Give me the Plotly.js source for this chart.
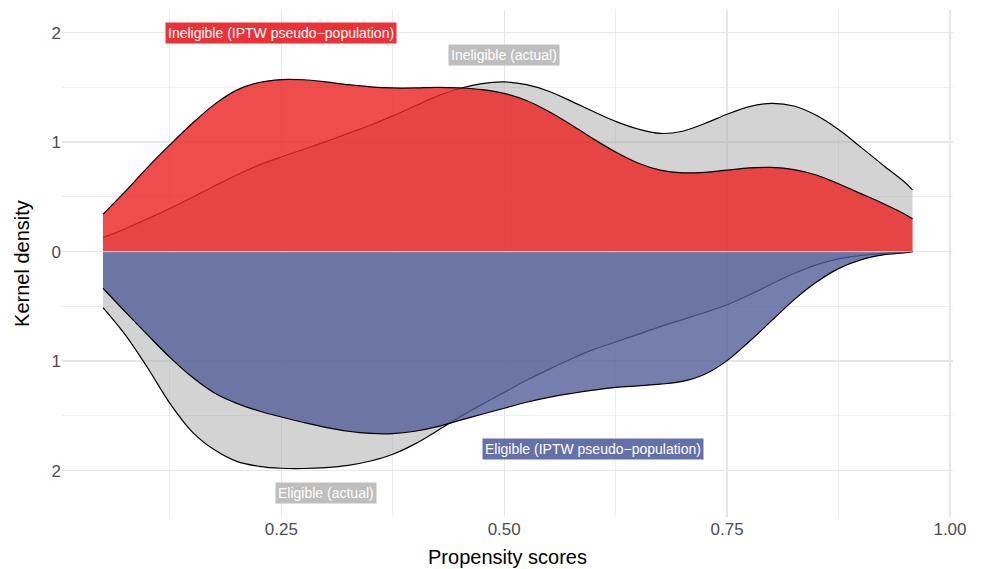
<!DOCTYPE html>
<html>
<head>
<meta charset="utf-8">
<script src="https://cdn.plot.ly/plotly-3.0.1.min.js"></script>
<style>
  html, body { margin: 0; padding: 0; background: #ffffff; }
  #chart { width: 986px; height: 569px; }
</style>
</head>
<body>
<div id="chart"></div>
<script>
// Propensity score grid
const propensity = [0.05, 0.075, 0.1, 0.125, 0.15, 0.175, 0.2, 0.225, 0.25, 0.275, 0.3, 0.325, 0.35, 0.375, 0.4, 0.425, 0.45, 0.475, 0.5, 0.525, 0.55, 0.575, 0.6, 0.625, 0.65, 0.675, 0.7, 0.725, 0.75, 0.775, 0.8, 0.825, 0.85, 0.875, 0.9, 0.925, 0.95, 0.958];

// Ineligible (top half)
const ineligibleActual = [0.128, 0.21, 0.30, 0.395, 0.495, 0.60, 0.70, 0.79, 0.865, 0.935, 1.005, 1.08, 1.155, 1.24, 1.33, 1.42, 1.49, 1.535, 1.55, 1.525, 1.465, 1.375, 1.28, 1.19, 1.12, 1.08, 1.10, 1.17, 1.255, 1.325, 1.355, 1.33, 1.245, 1.115, 0.955, 0.79, 0.63, 0.565];
const ineligibleIPTW = [0.342, 0.55, 0.77, 0.975, 1.17, 1.345, 1.475, 1.545, 1.572, 1.57, 1.55, 1.525, 1.505, 1.495, 1.495, 1.50, 1.495, 1.48, 1.445, 1.38, 1.28, 1.16, 1.03, 0.91, 0.81, 0.745, 0.72, 0.725, 0.745, 0.765, 0.77, 0.75, 0.70, 0.62, 0.53, 0.44, 0.34, 0.30];

// Eligible (bottom half, drawn mirrored)
const eligibleActual = [0.511, 0.76, 1.06, 1.385, 1.645, 1.81, 1.915, 1.96, 1.978, 1.98, 1.972, 1.952, 1.912, 1.85, 1.755, 1.635, 1.51, 1.395, 1.285, 1.175, 1.075, 0.98, 0.895, 0.825, 0.755, 0.685, 0.62, 0.555, 0.485, 0.395, 0.295, 0.20, 0.12, 0.065, 0.035, 0.015, 0.005, 0.0];
const eligibleIPTW = [0.334, 0.55, 0.76, 0.965, 1.145, 1.29, 1.385, 1.455, 1.51, 1.56, 1.605, 1.64, 1.66, 1.662, 1.64, 1.598, 1.54, 1.485, 1.43, 1.375, 1.33, 1.295, 1.265, 1.24, 1.225, 1.21, 1.185, 1.12, 0.995, 0.82, 0.63, 0.44, 0.28, 0.155, 0.075, 0.03, 0.01, 0.0];

// Axis ticks
const xTickVals = [0.25, 0.5, 0.75, 1.0];
const xTickText = ['0.25', '0.50', '0.75', '1.00'];
const xMinorVals = [0.125, 0.375, 0.625, 0.875];
const yTickVals = [-2, -1, 0, 1, 2];
const yTickText = ['2', '1', '0', '1', '2'];
const yMinorVals = [-1.5, -0.5, 0.5, 1.5];

// Labels
const labelText = ['Ineligible (IPTW pseudo\u2212population)', 'Ineligible (actual)', 'Eligible (IPTW pseudo\u2212population)', 'Eligible (actual)'];
const labelX = [0.25, 0.5, 0.6, 0.3];
const labelY = [2.0, 1.8, -1.8, -2.2];

const neg = a => a.map(v => -v);
const lineStyle = {color: '#000000', width: 1.2, shape: 'spline', smoothing: 1};

const traces = [
  {x: propensity, y: ineligibleActual, type: 'scatter', mode: 'lines', fill: 'tozeroy',
   fillcolor: 'rgba(170,170,170,0.52)', line: lineStyle, hoverinfo: 'skip', name: 'Ineligible (actual)'},
  {x: propensity, y: ineligibleIPTW, type: 'scatter', mode: 'lines', fill: 'tozeroy',
   fillcolor: 'rgba(236,36,36,0.82)', line: lineStyle, hoverinfo: 'skip', name: 'Ineligible (IPTW)'},
  {x: propensity, y: neg(eligibleActual), type: 'scatter', mode: 'lines', fill: 'tozeroy',
   fillcolor: 'rgba(170,170,170,0.52)', line: lineStyle, hoverinfo: 'skip', name: 'Eligible (actual)'},
  {x: propensity, y: neg(eligibleIPTW), type: 'scatter', mode: 'lines', fill: 'tozeroy',
   fillcolor: 'rgba(82,94,152,0.8)', line: lineStyle, hoverinfo: 'skip', name: 'Eligible (IPTW)'}
];

const labelBg = ['#ec3237', '#bebebe', '#6470aa', '#bebebe'];
const annotations = labelText.map((t, i) => ({
  x: labelX[i], y: labelY[i], xref: 'x', yref: 'y', text: t, showarrow: false,
  font: {family: 'Liberation Sans, Arial, sans-serif', size: 14, color: '#ffffff'},
  bgcolor: labelBg[i], borderpad: 2, xanchor: 'center', yanchor: 'middle'
}));

const layout = {
  width: 986, height: 569,
  margin: {l: 62, r: 33, t: 10, b: 52},
  paper_bgcolor: '#ffffff', plot_bgcolor: '#ffffff',
  showlegend: false,
  font: {family: 'Liberation Sans, Arial, sans-serif'},
  xaxis: {
    range: [0.004, 1.0034], tickmode: 'array', tickvals: xTickVals, ticktext: xTickText,
    showgrid: true, gridcolor: '#e6e6e6', gridwidth: 1.4, zeroline: false, showline: false,
    ticks: '', tickfont: {size: 17, color: '#4d4d4d'},
    minor: {tickmode: 'array', tickvals: xMinorVals, showgrid: true, gridcolor: '#e9e9e9', gridwidth: 0.8, ticks: ''},
    title: {text: 'Propensity scores', font: {size: 20, color: '#000000'}, standoff: 11}
  },
  yaxis: {
    range: [-2.423, 2.207], tickmode: 'array', tickvals: yTickVals, ticktext: yTickText,
    showgrid: true, gridcolor: '#e6e6e6', gridwidth: 1.4, zeroline: false, showline: false,
    ticks: '', tickfont: {size: 17, color: '#4d4d4d'},
    minor: {tickmode: 'array', tickvals: yMinorVals, showgrid: true, gridcolor: '#e9e9e9', gridwidth: 0.8, ticks: ''},
    title: {text: 'Kernel density', font: {size: 20, color: '#000000'}, standoff: 16}
  },
  shapes: [{
    type: 'line', xref: 'x', yref: 'y', layer: 'above',
    x0: propensity[0], x1: propensity[propensity.length - 1], y0: 0, y1: 0,
    line: {color: 'rgba(255,235,235,0.8)', width: 1}
  }],
  annotations: annotations
};

Plotly.newPlot('chart', traces, layout, {displayModeBar: false, staticPlot: true});
</script>
</body>
</html>
